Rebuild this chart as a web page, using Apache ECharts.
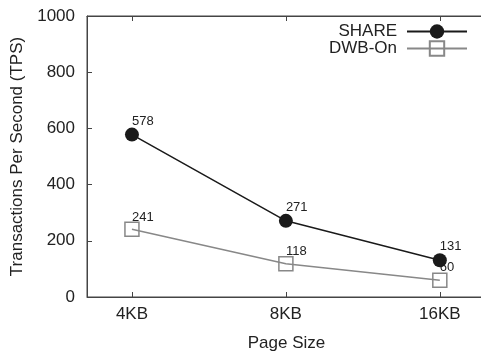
<!DOCTYPE html>
<html>
<head>
<meta charset="utf-8">
<script src="https://cdn.jsdelivr.net/npm/echarts@6/dist/echarts.min.js"></script>
<style>
  html, body { margin: 0; padding: 0; background: #fff; }
  #chart { width: 481px; height: 352px; }
</style>
</head>
<body>
<div id="chart"></div>
<script>
// Page sizes on the x axis, throughput per configuration
const pageSizes = ['4KB', '8KB', '16KB'];
const shareTps = [578, 271, 131];
const dwbOnTps = [241, 118, 60];
const yTicks = [0, 200, 400, 600, 800, 1000];

const FONT = '"Liberation Sans", Arial, Helvetica, sans-serif';
const TEXT = '#222';
const AXIS = '#444';

const catPositions = pageSizes.map((_, i) => i);

function toPoints(values) {
  return values.map((v, i) => [i, v]);
}

function catLabel(v) {
  const i = Math.round(v);
  return pageSizes[i] !== undefined ? pageSizes[i] : '';
}

const xCommon = {
  type: 'value',
  min: -0.292,
  max: 2.3,
  splitLine: { show: false },
  axisLine: { show: true, onZero: false, lineStyle: { color: AXIS, width: 1 } },
  axisTick: { show: true, inside: true, length: 5, customValues: catPositions, lineStyle: { color: AXIS } }
};

const chart = echarts.init(document.getElementById('chart'), null, { renderer: 'canvas' });

chart.setOption({
  animation: false,
  backgroundColor: '#fff',
  textStyle: { fontFamily: FONT },
  grid: {
    left: 87, top: 16, right: -5, bottom: 55,
    outerBoundsMode: 'none',
    containLabel: false,
    show: true, borderColor: AXIS, borderWidth: 1, backgroundColor: 'transparent'
  },
  legend: {
    orient: 'vertical',
    right: 8,
    top: 18,
    align: 'right',
    itemWidth: 60,
    itemHeight: 18,
    itemGap: 0,
    textStyle: { fontSize: 17, color: TEXT, fontFamily: FONT, padding: [0, 5, 0, 0] },
    data: ['SHARE', 'DWB-On']
  },
  xAxis: [
    Object.assign({}, xCommon, {
      position: 'bottom',
      name: 'Page Size',
      nameLocation: 'middle',
      nameGap: 38,
      nameTextStyle: { fontSize: 17, color: TEXT, verticalAlign: 'top' },
      axisLabel: { fontSize: 17, color: TEXT, margin: 9, customValues: catPositions, formatter: catLabel }
    }),
    Object.assign({}, xCommon, {
      position: 'top',
      axisLabel: { show: false }
    })
  ],
  yAxis: {
    type: 'value',
    min: yTicks[0],
    max: yTicks[yTicks.length - 1],
    interval: yTicks[1] - yTicks[0],
    name: 'Transactions Per Second (TPS)',
    nameLocation: 'middle',
    nameGap: 54,
    nameTextStyle: { fontSize: 17, color: TEXT },
    splitLine: { show: false },
    axisLine: { show: true, onZero: false, lineStyle: { color: AXIS, width: 1 } },
    axisTick: { show: true, inside: true, length: 5, lineStyle: { color: AXIS } },
    axisLabel: { fontSize: 17, color: TEXT, margin: 12, formatter: v => String(v) }
  },
  series: [
    {
      name: 'SHARE',
      type: 'line',
      data: toPoints(shareTps),
      symbol: 'circle',
      symbolSize: 14,
      z: 3,
      lineStyle: { color: '#1a1a1a', width: 1.5 },
      itemStyle: { color: '#1a1a1a' },
      label: {
        show: true,
        position: 'top',
        align: 'left',
        distance: 0,
        fontSize: 13,
        color: TEXT,
        formatter: p => String(p.value[1])
      }
    },
    {
      name: 'DWB-On',
      type: 'line',
      data: toPoints(dwbOnTps),
      symbol: 'rect',
      symbolSize: 14,
      z: 2,
      lineStyle: { color: '#888', width: 1.5 },
      itemStyle: { color: 'transparent', borderColor: '#888', borderWidth: 1.5 },
      label: {
        show: true,
        position: 'top',
        align: 'left',
        distance: -2,
        fontSize: 13,
        color: TEXT,
        formatter: p => String(p.value[1])
      }
    }
  ]
});
</script>
</body>
</html>
